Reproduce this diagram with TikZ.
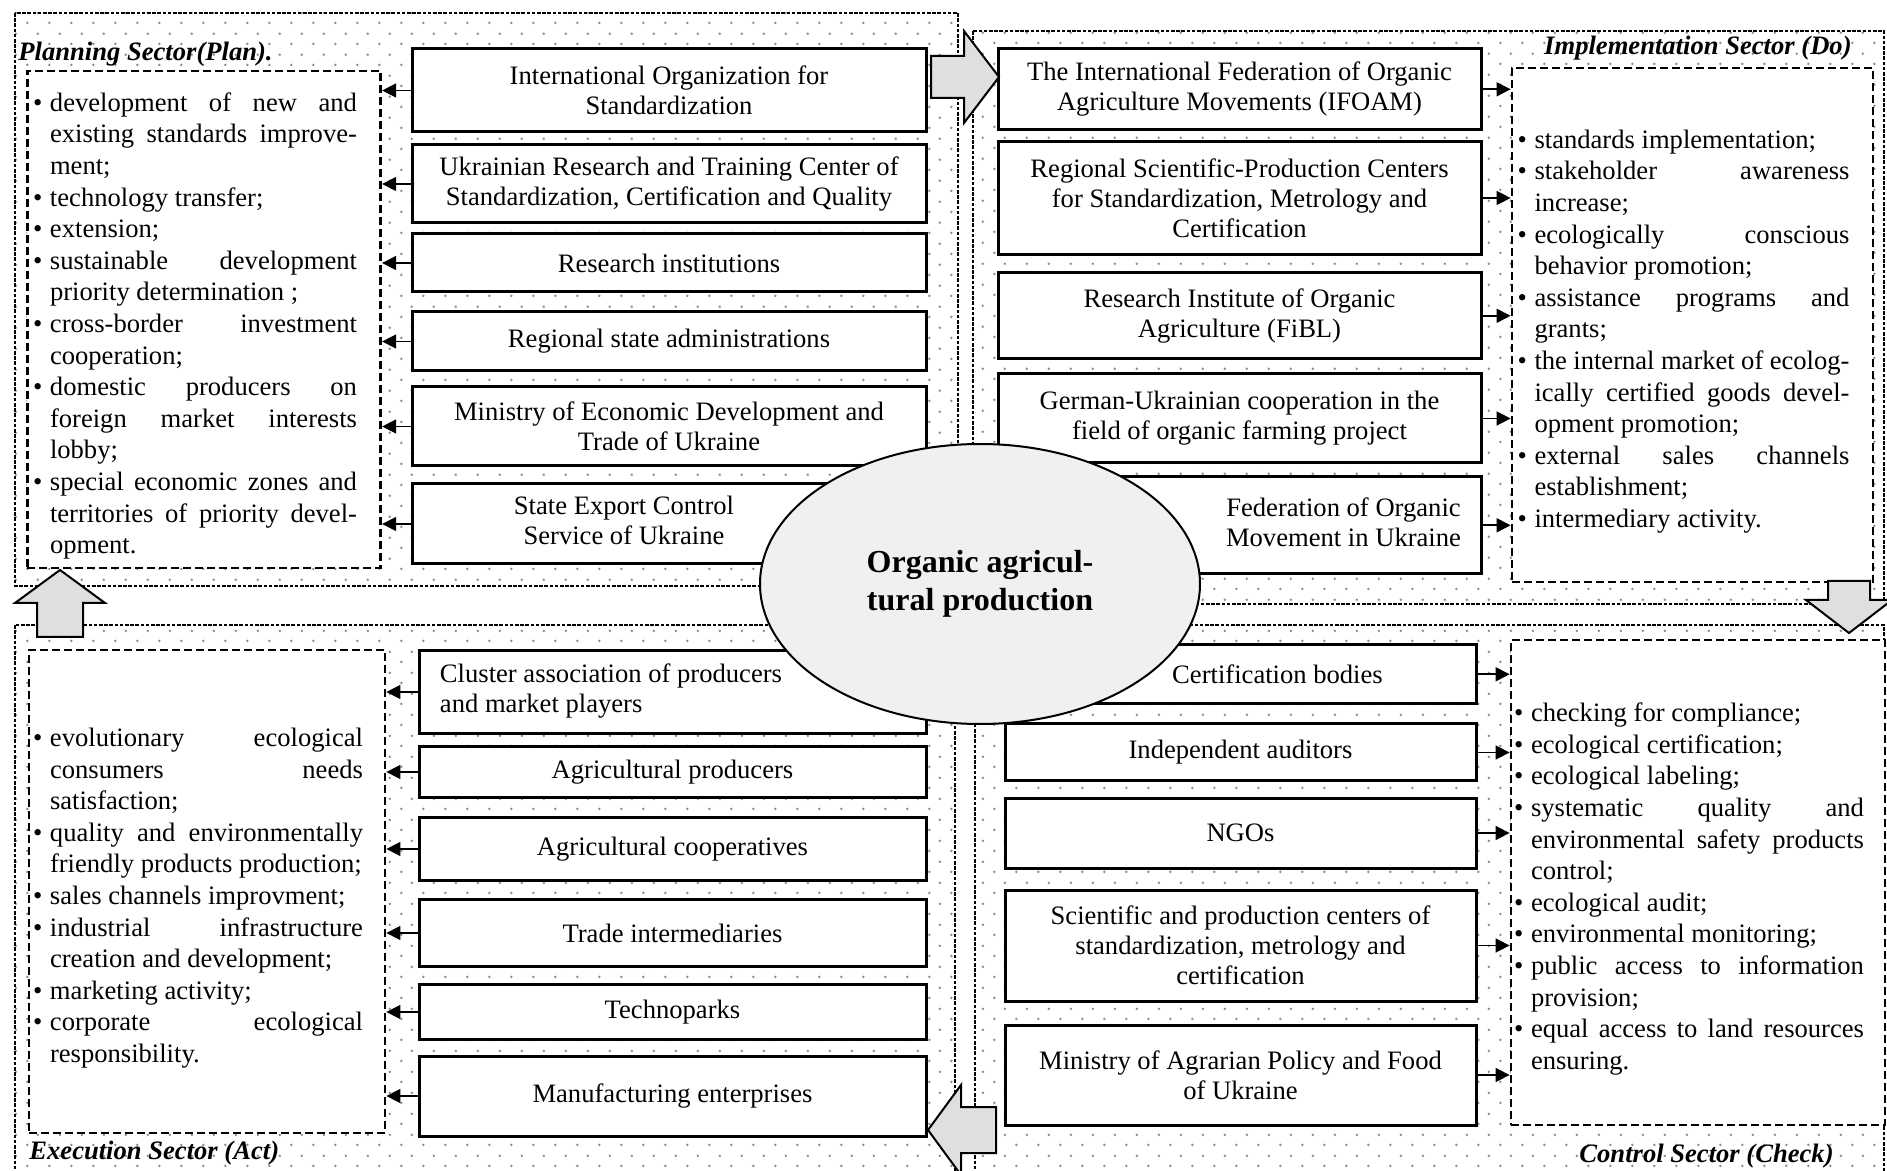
\documentclass[tikz,border=0pt]{standalone}
\usepackage{fontspec}
\setmainfont{Liberation Serif}
\usepackage{tikz}
\usetikzlibrary{shapes.geometric,patterns.meta,arrows.meta,calc}
\newcommand{\boxfont}{\fontsize{13.3}{15}\selectfont}
\newcommand{\listfont}{\fontsize{13.3}{15.8}\selectfont\hbadness=10000}
\newcommand{\sectorfont}{\fontsize{13.3}{15}\selectfont\bfseries\itshape}
\newcommand{\corefont}{\fontsize{16}{19}\selectfont\bfseries}
\newcommand{\bitem}{\par\noindent\rightskip=9pt\hangindent=8.5pt\hangafter=1\makebox[8.5pt][l]{\textbullet}}
\tikzdeclarepattern{
  name=sectordots,
  type=uncolored,
  bottom left={(0pt,0pt)},
  top right={(10.75pt,10.3pt)},
  tile size={(10.75pt,10.3pt)},
  code={
    \fill (2.7pt,2.6pt) circle (0.7pt);
    \fill (8.1pt,7.75pt) circle (0.7pt);
  }
}
\tikzstyle{pdca}=[
  >={Triangle[length=7pt,width=7pt]}, x=0.5pt, y=-0.5pt
]
\tikzstyle{sector}=[
  draw, line width=0.6pt, dash pattern=on 1.8pt off 0.8pt, pattern=sectordots, pattern color=black!45
]
\tikzstyle{sectortitle}=[
  inner sep=0pt, font=\sectorfont
]
\tikzstyle{actor}=[
  draw, line width=1.5pt, fill=white, inner sep=0pt, align=center, font=\boxfont
]
\tikzstyle{planactor}=[actor, minimum width=257pt]
\tikzstyle{doactor}=[actor, minimum width=241.5pt]
\tikzstyle{actactor}=[actor, minimum width=253.5pt]
\tikzstyle{checkactor}=[actor, minimum width=235.5pt]
\tikzstyle{duties}=[
  draw, line width=1.4pt, dash pattern=on 4pt off 2pt, fill=white, inner sep=0pt, align=justify, font=\listfont
]
\tikzstyle{flow}=[
  ->, line width=0.8pt
]
\tikzstyle{bigarrow}=[
  draw, line width=1pt, fill=gray!25
]
\tikzstyle{core}=[
  ellipse, draw, line width=1pt, fill=gray!12, inner sep=0pt, align=center, font=\corefont
]

\begin{document}
\begin{tikzpicture}[pdca]
  \useasboundingbox (0,0) rectangle (1887,1171);
  \clip (0,0) rectangle (1887,1171);
  \draw [sector] (15,13) rectangle (958,586);
  \draw [sector] (973,31) rectangle (1884,604);
  \draw [sector] (15,625) rectangle (955,1190);
  \draw [sector] (975,625) rectangle (1884,1190);
  \node (tplan) at (18,54) [sectortitle, anchor=west] {Planning Sector(Plan).};
  \node (tdo) at (1852,48) [sectortitle, anchor=east] {Implementation Sector (Do)};
  \node (tact) at (29,1153) [sectortitle, anchor=west] {Execution Sector (Act)};
  \node (tcheck) at (1834,1156) [sectortitle, anchor=east] {Control Sector (Check)};

  \node (plist) at (204,319.5) [duties, minimum width=176.75pt, minimum height=248.5pt, text width=171pt] {
    \bitem development of new and\linebreak existing standards improve-\linebreak ment;
    \bitem technology transfer;
    \bitem extension;
    \bitem sustainable development\linebreak priority determination ;
    \bitem cross-border investment\linebreak cooperation;
    \bitem domestic producers on\linebreak foreign market interests\linebreak lobby;
    \bitem special economic zones and\linebreak territories of priority devel-\linebreak opment.\par};
  \node (p1) at (669,90.5) [planactor, minimum height=41.5pt] {International Organization for\\Standardization};
  \node (p2) at (669,184) [planactor, minimum height=39pt] {Ukrainian Research and Training Center of\\Standardization, Certification and Quality};
  \node (p3) at (669,263) [planactor, minimum height=29pt] {Research institutions};
  \node (p4) at (669,341.5) [planactor, minimum height=29.5pt] {Regional state administrations};
  \node (p5) at (669,426.5) [planactor, minimum height=39.5pt] {Ministry of Economic Development and\\Trade of Ukraine};
  \node (p6) at (669,524) [planactor, minimum height=40pt] {\begin{tabular}{@{}c@{}}State Export Control\\Service of Ukraine\end{tabular}\hspace*{45pt}};
  \foreach \n in {p1,p2,p3,p4,p5,p6}
    \draw [flow] (\n.west) -- (\n.west -| plist.east);

  \node (ilist) at (1692.5,325) [duties, minimum width=180.5pt, minimum height=257pt, text width=175pt] {
    \bitem standards implementation;
    \bitem stakeholder awareness\linebreak increase;
    \bitem ecologically conscious\linebreak behavior promotion;
    \bitem assistance programs and\linebreak grants;
    \bitem the internal market of ecolog-\linebreak ically certified goods devel-\linebreak opment promotion;
    \bitem external sales channels\linebreak establishment;
    \bitem intermediary activity.\par};
  \node (i1) at (1239.5,89.3) [doactor, minimum height=40.7pt] {The International Federation of Organic\\Agriculture Movements (IFOAM)};
  \node (i2) at (1239.5,198) [doactor, minimum height=56.5pt] {Regional Scientific-Production Centers\\for Standardization, Metrology and\\Certification};
  \node (i3) at (1239.5,315.8) [doactor, minimum height=43.2pt] {Research Institute of Organic\\Agriculture (FiBL)};
  \node (i4) at (1239.5,418.5) [doactor, minimum height=44.5pt] {German-Ukrainian cooperation in the\\field of organic farming project};
  \node (i5) at (1239.5,525.3) [doactor, minimum height=48.7pt] {\hspace*{104pt}\begin{tabular}{@{}c@{}}Federation of Organic\\Movement in Ukraine\end{tabular}};
  \foreach \n in {i1,i2,i3,i4,i5}
    \draw [flow] (\n.east) -- (\n.east -| ilist.west);

  \node (elist) at (207,891.5) [duties, minimum width=178pt, minimum height=241.5pt, text width=174pt] {
    \bitem evolutionary ecological\linebreak consumers needs\linebreak satisfaction;
    \bitem quality and environmentally\linebreak friendly products production;
    \bitem sales channels improvment;
    \bitem industrial infrastructure\linebreak creation and development;
    \bitem marketing activity;
    \bitem corporate ecological\linebreak responsibility.\par};
  \node (e1) at (672.5,692) [actactor, minimum height=41.5pt] {\begin{tabular}{@{}l@{}}Cluster association of producers\\and market players\end{tabular}\hspace*{61.5pt}};
  \node (e2) at (672.5,772) [actactor, minimum height=25pt] {Agricultural producers};
  \node (e3) at (672.5,849) [actactor, minimum height=31.2pt] {Agricultural cooperatives};
  \node (e4) at (672.5,933) [actactor, minimum height=33.5pt] {Trade intermediaries};
  \node (e5) at (672.5,1012) [actactor, minimum height=27.5pt] {Technoparks};
  \node (e6) at (672.5,1096) [actactor, minimum height=40pt] {Manufacturing enterprises};
  \foreach \n in {e1,e2,e3,e4,e5,e6}
    \draw [flow] (\n.west) -- (\n.west -| elist.east);

  \node (clist) at (1698,882.5) [duties, minimum width=187pt, minimum height=242.5pt, text width=184pt] {
    \bitem checking for compliance;
    \bitem ecological certification;
    \bitem ecological labeling;
    \bitem systematic quality and\linebreak environmental safety products\linebreak control;
    \bitem ecological audit;
    \bitem environmental monitoring;
    \bitem public access to information\linebreak provision;
    \bitem equal access to land resources\linebreak ensuring.\par};
  \node (c1) at (1240.5,674.3) [checkactor, minimum height=29.7pt] {\hspace*{37pt}Certification bodies};
  \node (c2) at (1240.5,752.5) [checkactor, minimum height=28.5pt] {Independent auditors};
  \node (c3) at (1240.5,833) [checkactor, minimum height=35pt] {NGOs};
  \node (c4) at (1240.5,945.5) [checkactor, minimum height=55.5pt] {Scientific and production centers of\\standardization, metrology and\\certification};
  \node (c5) at (1240.5,1075) [checkactor, minimum height=50pt] {Ministry of Agrarian Policy and Food\\of Ukraine};
  \foreach \n in {c1,c2,c3,c4,c5}
    \draw [flow] (\n.east) -- (\n.east -| clist.west);

  \draw [bigarrow] (931,56) -- (964,56) -- (964,31) -- (999,77) -- (964,123) -- (964,98) -- (931,98) -- cycle;
  \draw [bigarrow] (1828,581) -- (1870,581) -- (1870,600) -- (1892,600) -- (1849,633) -- (1806,600) -- (1828,600) -- cycle;
  \draw [bigarrow] (996,1107) -- (961,1107) -- (961,1085) -- (928,1130) -- (961,1175) -- (961,1153) -- (996,1153) -- cycle;
  \draw [bigarrow] (37,637) -- (37,603) -- (15,603) -- (60,570) -- (105,603) -- (83,603) -- (83,637) -- cycle;

  \node (prod) at (980,584) [core, minimum width=220pt, minimum height=140pt] {Organic agricul-\\tural production};
\end{tikzpicture}
\end{document}
